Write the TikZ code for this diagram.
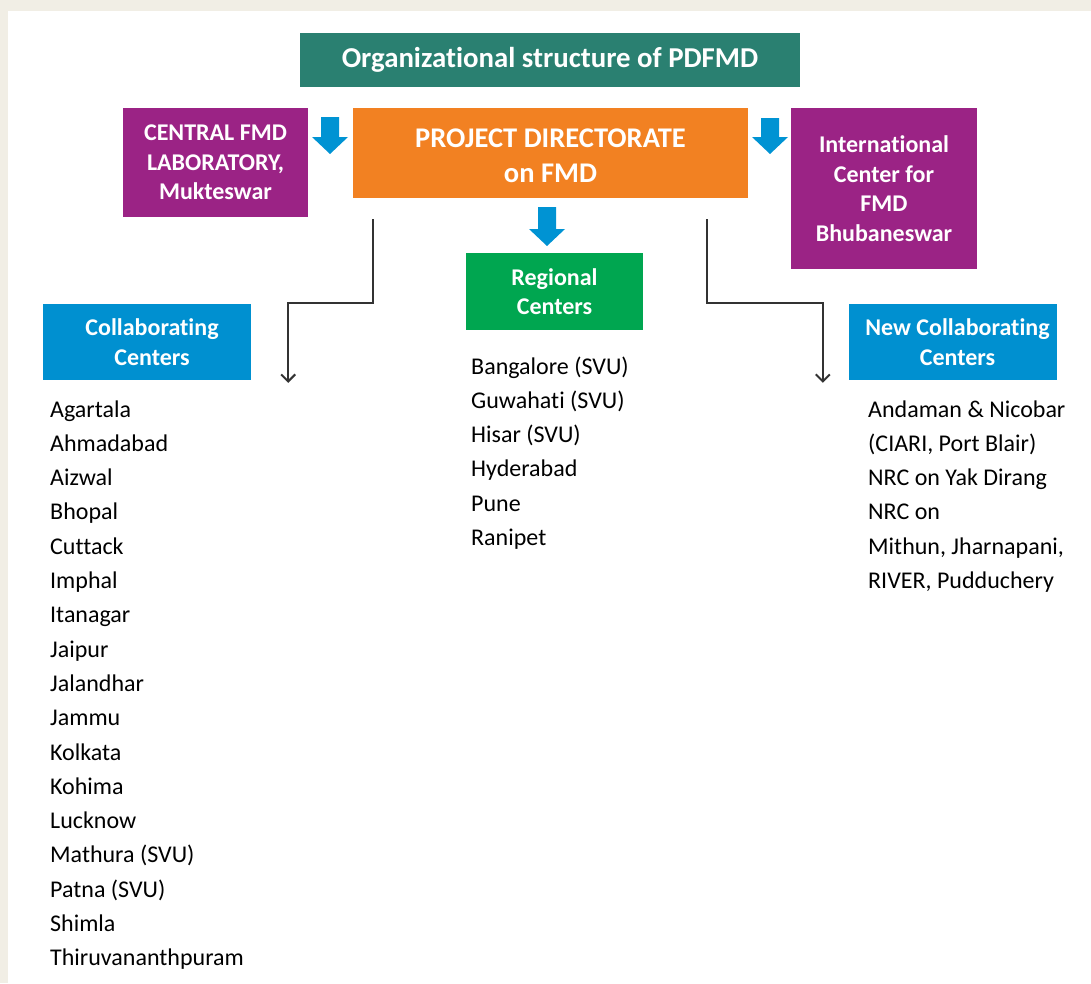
\documentclass[tikz,border=0pt]{standalone}
\usepackage{fontspec}
\setmainfont{Carlito}[Ligatures={NoCommon,NoContextual}]
\usetikzlibrary{arrows.meta,calc}
\definecolor{bgbeige}{HTML}{F1EEE5}
\definecolor{titleteal}{HTML}{2A8071}
\definecolor{pdorange}{HTML}{F28122}
\definecolor{labpurple}{HTML}{9B2385}
\definecolor{regreen}{HTML}{00A650}
\definecolor{colblue}{HTML}{0090D0}
\definecolor{arrblue}{HTML}{0093D3}
\definecolor{linegray}{HTML}{333333}
\begin{document}
\begin{tikzpicture}[x=1pt,y=-1pt,
  box/.style={fill=#1, text=white, inner sep=0pt, align=center,
    font=\fontsize{24}{29.5}\selectfont\bfseries},
  listtext/.style={anchor=base west, inner sep=0pt, text=black,
    font=\fontsize{24}{29}\selectfont},
  conn/.style={draw=linegray, line width=1.5pt, -{Straight Barb[length=7pt,width=14pt,line width=2pt]}},
  bluearrow/.style={fill=arrblue}]
\useasboundingbox (0,0) rectangle (1091,983);
\fill[bgbeige] (0,0) rectangle (1091,983);
\fill[white] (8,11) rectangle (1091,983);

% boxes
\node[box=titleteal, minimum width=500pt, minimum height=54pt,
  font=\fontsize{28.8}{30}\selectfont\bfseries] (title) at (550,60) {\rule{0pt}{20pt}Organizational structure of PDFMD};
\node[box=pdorange, minimum width=395pt, minimum height=90pt,
  font=\fontsize{28.5}{35.5}\selectfont\bfseries] (pd) at (550.5,153) {\rule{0pt}{24pt}PROJECT DIRECTORATE\\on FMD};
\node[box=labpurple, minimum width=185pt, minimum height=109pt] (cf) at (215.5,162.5) {CENTRAL FMD\\LABORATORY,\\Mukteswar};
\node[box=labpurple, minimum width=186pt, minimum height=161pt] (ic) at (884,188.5) {International\\Center for\\FMD\\Bhubaneswar};
\node[box=regreen, minimum width=177pt, minimum height=77pt] (rc) at (554.5,291.5) {Regional\\Centers};
\node[box=colblue, minimum width=208pt, minimum height=76pt] (cc) at (147,342) {\hspace*{10pt}Collaborating\\\hspace*{10pt}Centers};
\node[box=colblue, minimum width=208pt, minimum height=76pt] (nc) at (953,342) {\hspace*{9pt}New Collaborating\\\hspace*{9pt}Centers};

% blue block arrows
\foreach \cx/\ty/\h in {330/117/37, 770/118/36, 547/207/39}{
  \fill[bluearrow] (\cx-9,\ty) -- (\cx+9,\ty) -- (\cx+9,\ty+\h-17) -- (\cx+18,\ty+\h-17)
    -- (\cx,\ty+\h) -- (\cx-18,\ty+\h-17) -- (\cx-9,\ty+\h-17) -- cycle;
}

% connectors
\coordinate (lstart) at ($(pd.south west)+(20,21)$);
\coordinate (ltip) at ($(cc.north east)+(37,79)$);
\coordinate (rstart) at ($(pd.south east)+(-41,21)$);
\coordinate (rtip) at ($(nc.north west)+(-26,79)$);
\draw[conn] (lstart) -- ++(0,84) -| (ltip);
\draw[conn] (rstart) -- ++(0,84) -| (rtip);

% lists
\foreach \t [count=\i from 0] in {Agartala,Ahmadabad,Aizwal,Bhopal,Cuttack,Imphal,Itanagar,Jaipur,Jalandhar,Jammu,Kolkata,Kohima,Lucknow,Mathura (SVU),Patna (SVU),Shimla,Thiruvananthpuram}{
  \node[listtext] (ccl\i) at (50,417+34.3*\i) {\t};
}
\foreach \t [count=\i from 0] in {Bangalore (SVU),Guwahati (SVU),Hisar (SVU),Hyderabad,Pune,Ranipet}{
  \node[listtext] (rcl\i) at (471,374+34.3*\i) {\t};
}
\foreach \t [count=\i from 0] in {Andaman \& Nicobar,{(CIARI, Port Blair)},NRC on Yak Dirang,NRC on,{Mithun, Jharnapani,},{RIVER, Pudduchery}}{
  \node[listtext] (ncl\i) at (868,417+34.3*\i) {\t};
}
\end{tikzpicture}
\end{document}
